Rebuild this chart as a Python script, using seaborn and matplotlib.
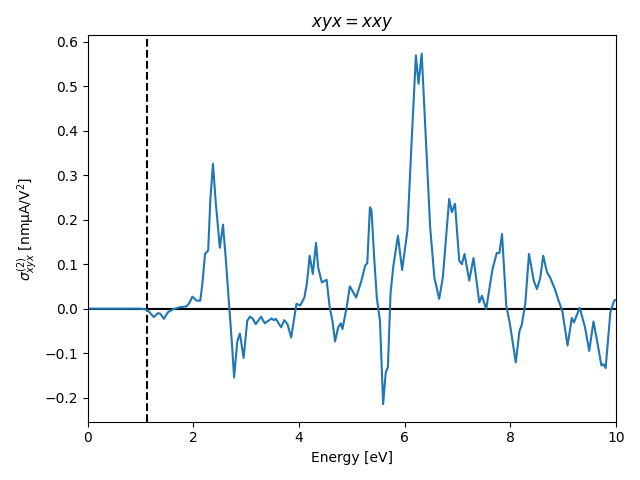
import matplotlib
matplotlib.use("Agg")
import matplotlib.pyplot as plt
import seaborn as sns
import pandas as pd

energy = [0.0, 0.5, 0.98, 1.11, 1.17, 1.25, 1.33, 1.38, 1.44, 1.52, 1.62, 1.74, 1.87, 1.93, 1.98,
          2.06, 2.13, 2.17, 2.22, 2.28, 2.32, 2.37, 2.42, 2.50, 2.56, 2.61, 2.68, 2.73, 2.77, 2.83,
          2.88, 2.95, 3.02, 3.07, 3.12, 3.18, 3.28, 3.35, 3.48, 3.52, 3.56, 3.66, 3.72, 3.78, 3.85,
          3.91, 3.95, 4.02, 4.10, 4.15, 4.20, 4.26, 4.32, 4.36, 4.43, 4.52, 4.58, 4.63, 4.68, 4.74,
          4.79, 4.82, 4.90, 4.96, 5.08, 5.18, 5.25, 5.29, 5.34, 5.37, 5.42, 5.47, 5.53, 5.59, 5.64,
          5.68, 5.73, 5.78, 5.87, 5.95, 6.05, 6.13, 6.21, 6.26, 6.32, 6.40, 6.48, 6.56, 6.65, 6.72,
          6.84, 6.89, 6.95, 7.03, 7.08, 7.13, 7.22, 7.30, 7.41, 7.46, 7.54, 7.66, 7.74, 7.79, 7.84,
          7.92, 7.99, 8.10, 8.17, 8.21, 8.28, 8.35, 8.44, 8.50, 8.56, 8.62, 8.69, 8.75, 8.84, 8.91,
          8.98, 9.08, 9.16, 9.20, 9.31, 9.41, 9.49, 9.57, 9.65, 9.72, 9.76, 9.80, 9.89, 9.96, 10.0]
sigma = [0.0, 0.0, 0.0, -0.002, -0.008, -0.019, -0.010, -0.012, -0.023, -0.008, -0.001, 0.003, 0.005, 0.014, 0.027,
         0.018, 0.018, 0.056, 0.123, 0.131, 0.243, 0.326, 0.243, 0.137, 0.189, 0.116, 0.003, -0.080, -0.155, -0.074,
         -0.056, -0.111, -0.027, -0.018, -0.022, -0.035, -0.018, -0.033, -0.022, -0.026, -0.023, -0.042, -0.026, -0.035, -0.065,
         -0.020, 0.011, 0.007, 0.025, 0.059, 0.119, 0.078, 0.148, 0.093, 0.059, 0.065, 0.002, -0.027, -0.074, -0.042,
         -0.033, -0.046, 0.003, 0.050, 0.025, 0.063, 0.097, 0.102, 0.228, 0.221, 0.116, 0.025, -0.027, -0.215, -0.143,
         -0.132, 0.033, 0.093, 0.164, 0.087, 0.176, 0.378, 0.570, 0.506, 0.574, 0.378, 0.183, 0.070, 0.022, 0.070,
         0.247, 0.217, 0.236, 0.108, 0.100, 0.123, 0.063, 0.114, 0.014, 0.029, -0.001, 0.089, 0.125, 0.125, 0.168,
         0.007, -0.035, -0.121, -0.050, -0.038, 0.011, 0.123, 0.063, 0.044, 0.067, 0.119, 0.082, 0.070, 0.044, 0.018,
         -0.005, -0.083, -0.021, -0.031, 0.002, -0.042, -0.095, -0.029, -0.080, -0.128, -0.125, -0.134, -0.008, 0.018, 0.020]

band_gap = 1.12

df = pd.DataFrame({"Energy": energy, "sigma": sigma})

fig, ax = plt.subplots(figsize=(6.4, 4.8), dpi=100)
ax.axhline(0, color="black", zorder=1)
ax.axvline(band_gap, color="black", linestyle="--", zorder=1)
sns.lineplot(data=df, x="Energy", y="sigma", ax=ax, color="#1f77b4", linewidth=1.5, sort=False, zorder=2)
ax.set_xlim(0, 10)
ax.set_ylim(-0.2545, 0.615)
ax.set_xlabel("Energy [eV]")
ax.set_ylabel(r"$\sigma^{(2)}_{xyx}$ [nmμA/V$^2$]")
ax.set_title(r"$xyx = xxy$")
fig.tight_layout()
fig.savefig("out.png", dpi=100)
